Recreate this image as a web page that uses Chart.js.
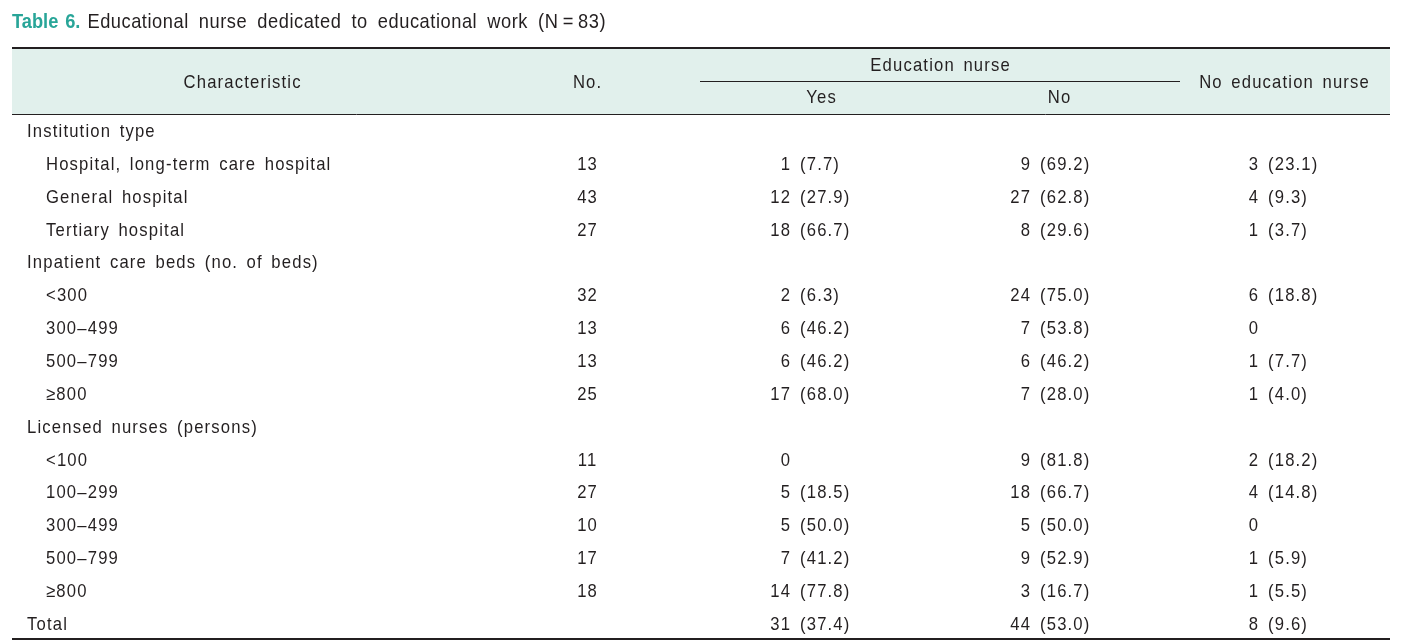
<!DOCTYPE html>
<html>
<head>
<meta charset="utf-8">
<script src="https://cdn.jsdelivr.net/npm/chart.js@4/dist/chart.umd.min.js"></script>
<style>
  html, body { margin: 0; background: #fff; }
  #wrap { width: 1410px; height: 641px; }
</style>
</head>
<body>
<div id="wrap"><canvas id="table"></canvas></div>
<script>
// table text
const titleBold = 'Table 6.'
const titleText = 'Educational nurse dedicated to educational work (N\u2009=\u200983)'
const headTop = ['Characteristic', 'No.', 'Education nurse', 'No education nurse']
const headSub = ['Yes', 'No']

const rowLabels = [
  'Institution type',
  'Hospital, long-term care hospital',
  'General hospital',
  'Tertiary hospital',
  'Inpatient care beds (no. of beds)',
  '<300',
  '300\u2013499',
  '500\u2013799',
  '\u2265800',
  'Licensed nurses (persons)',
  '<100',
  '100\u2013299',
  '300\u2013499',
  '500\u2013799',
  '\u2265800',
  'Total'
]
const rowIndent = [0, 1, 1, 1, 0, 1, 1, 1, 1, 0, 1, 1, 1, 1, 1, 0]

// values (null = empty cell)
const totalNo   = [null, 13, 43, 27, null, 32, 13, 13, 25, null, 11, 27, 10, 17, 18, null]
const yesCount  = [null, 1, 12, 18, null, 2, 6, 6, 17, null, 0, 5, 5, 7, 14, 31]
const yesPct    = [null, 7.7, 27.9, 66.7, null, 6.3, 46.2, 46.2, 68.0, null, null, 18.5, 50.0, 41.2, 77.8, 37.4]
const noCount   = [null, 9, 27, 8, null, 24, 7, 6, 7, null, 9, 18, 5, 9, 3, 44]
const noPct     = [null, 69.2, 62.8, 29.6, null, 75.0, 53.8, 46.2, 28.0, null, 81.8, 66.7, 50.0, 52.9, 16.7, 53.0]
const noEdCount = [null, 3, 4, 1, null, 6, 0, 1, 1, null, 2, 4, 0, 1, 1, 8]
const noEdPct   = [null, 23.1, 9.3, 3.7, null, 18.8, null, 7.7, 4.0, null, 18.2, 14.8, null, 5.9, 5.5, 9.6]

// layout (x in scale units = px across, y in row units)
const FONT = '"Liberation Sans", Arial, sans-serif'
const NARROW = 0.9   // horizontal squeeze to get a condensed face
const INK = '#231f20'
const TEAL = '#28a598'
const HEAD_BG = '#e1f0ec'
const col = { label: 27, indent: 46, no: 587, yes: 790, no2: 1030, noEd: 1258, gap: 10 }
const headX = { characteristic: 242, no: 587, edu: 940, yes: 821, no2: 1059, noEd: 1284 }
const rule = { left: 12, right: 1390, eduL: 700, eduR: 1180 }
const rowY = { title: -3.31, top: -2.70, edu: -2.02, eduRule: -1.71, mid: -1.5, sub: -1.05, head: -0.70, bottom: 15.29 }

const bodyFont = { size: 18.5, bold: false, track: 1.3, word: 3 }
const titleFont = { size: 20.3, bold: false, track: 0.6, word: 5 }
const titleBoldFont = { size: 20.3, bold: true, track: 0, word: 2 }

function cells(counts, pcts, x) {
  return counts.map((n, i) => n == null ? null : { x, y: i, n, p: pcts ? pcts[i] : null }).filter(Boolean)
}

const datasets = [
  { kind: 'label', data: rowLabels.map((t, i) => ({ x: rowIndent[i] ? col.indent : col.label, y: i, text: t })) },
  { kind: 'center', data: cells(totalNo, null, col.no) },
  { kind: 'split', data: cells(yesCount, yesPct, col.yes) },
  { kind: 'split', data: cells(noCount, noPct, col.no2) },
  { kind: 'split', data: cells(noEdCount, noEdPct, col.noEd) }
].map(d => ({ ...d, pointRadius: 0, pointHoverRadius: 0, showLine: false }))

// draws text squeezed horizontally; returns drawn width in px
function text(ctx, str, px, py, align, f) {
  ctx.save()
  ctx.font = (f.bold ? 'bold ' : '') + f.size + 'px ' + FONT
  ctx.letterSpacing = f.track + 'px'
  ctx.wordSpacing = f.word + 'px'
  ctx.textBaseline = 'alphabetic'
  ctx.textAlign = align
  ctx.translate(px, py)
  ctx.scale(NARROW, 1)
  // trailing letter spacing would shift right/center aligned text
  const shift = align === 'right' ? f.track : align === 'center' ? f.track / 2 : 0
  ctx.fillText(str, shift, 0)
  const w = ctx.measureText(str).width * NARROW
  ctx.restore()
  return w
}

function hline(ctx, x, y, x0, x1, yv, w) {
  const py = Math.round(y.getPixelForValue(yv)) + (w % 2 ? 0.5 : 0)
  ctx.lineWidth = w
  ctx.beginPath()
  ctx.moveTo(x.getPixelForValue(x0), py)
  ctx.lineTo(x.getPixelForValue(x1), py)
  ctx.stroke()
}

const tablePlugin = {
  id: 'tableText',
  beforeDatasetsDraw(chart) {
    const { ctx, scales: { x, y } } = chart
    ctx.save()
    // header band
    const top = y.getPixelForValue(rowY.top), bot = y.getPixelForValue(rowY.head)
    const l = x.getPixelForValue(rule.left), r = x.getPixelForValue(rule.right)
    ctx.fillStyle = HEAD_BG
    ctx.fillRect(l, top, r - l, bot - top)

    ctx.strokeStyle = INK
    hline(ctx, x, y, rule.left, rule.right, rowY.top, 2)
    hline(ctx, x, y, rule.eduL, rule.eduR, rowY.eduRule, 1)
    hline(ctx, x, y, rule.left, rule.right, rowY.head, 1)
    hline(ctx, x, y, rule.left, rule.right, rowY.bottom, 2)

    // title
    const ty = y.getPixelForValue(rowY.title)
    ctx.fillStyle = TEAL
    const w = text(ctx, titleBold, l, ty, 'left', titleBoldFont)
    ctx.fillStyle = INK
    text(ctx, titleText, l + w + 7, ty, 'left', titleFont)

    // header labels
    const mid = y.getPixelForValue(rowY.mid)
    const sub = y.getPixelForValue(rowY.sub)
    text(ctx, headTop[0], x.getPixelForValue(headX.characteristic), mid, 'center', bodyFont)
    text(ctx, headTop[1], x.getPixelForValue(headX.no), mid, 'center', bodyFont)
    text(ctx, headTop[2], x.getPixelForValue(headX.edu), y.getPixelForValue(rowY.edu), 'center', bodyFont)
    text(ctx, headTop[3], x.getPixelForValue(headX.noEd), mid, 'center', bodyFont)
    text(ctx, headSub[0], x.getPixelForValue(headX.yes), sub, 'center', bodyFont)
    text(ctx, headSub[1], x.getPixelForValue(headX.no2), sub, 'center', bodyFont)
    ctx.restore()
  },
  afterDatasetsDraw(chart) {
    const { ctx } = chart
    ctx.save()
    ctx.fillStyle = INK
    chart.data.datasets.forEach((ds, di) => {
      const meta = chart.getDatasetMeta(di)
      meta.data.forEach((pt, i) => {
        const raw = ds.data[i]
        if (ds.kind === 'label') {
          text(ctx, raw.text, pt.x, pt.y, 'left', bodyFont)
        } else if (ds.kind === 'center') {
          text(ctx, String(raw.n), pt.x, pt.y, 'center', bodyFont)
        } else {
          text(ctx, String(raw.n), pt.x, pt.y, 'right', bodyFont)
          if (raw.p != null) {
            text(ctx, '(' + raw.p.toFixed(1) + ')', pt.x + col.gap, pt.y, 'left', bodyFont)
          }
        }
      })
    })
    ctx.restore()
  }
}

new Chart(document.getElementById('table'), {
  type: 'scatter',
  data: { datasets },
  options: {
    responsive: true,
    maintainAspectRatio: false,
    animation: false,
    layout: { padding: 0 },
    plugins: { legend: { display: false }, tooltip: { enabled: false } },
    scales: {
      x: { type: 'linear', display: false, min: 0, max: 1410 },
      y: { type: 'linear', display: false, reverse: true, min: -137 / 32.85, max: (641 - 137) / 32.85 }
    }
  },
  plugins: [tablePlugin]
})
</script>
</body>
</html>
